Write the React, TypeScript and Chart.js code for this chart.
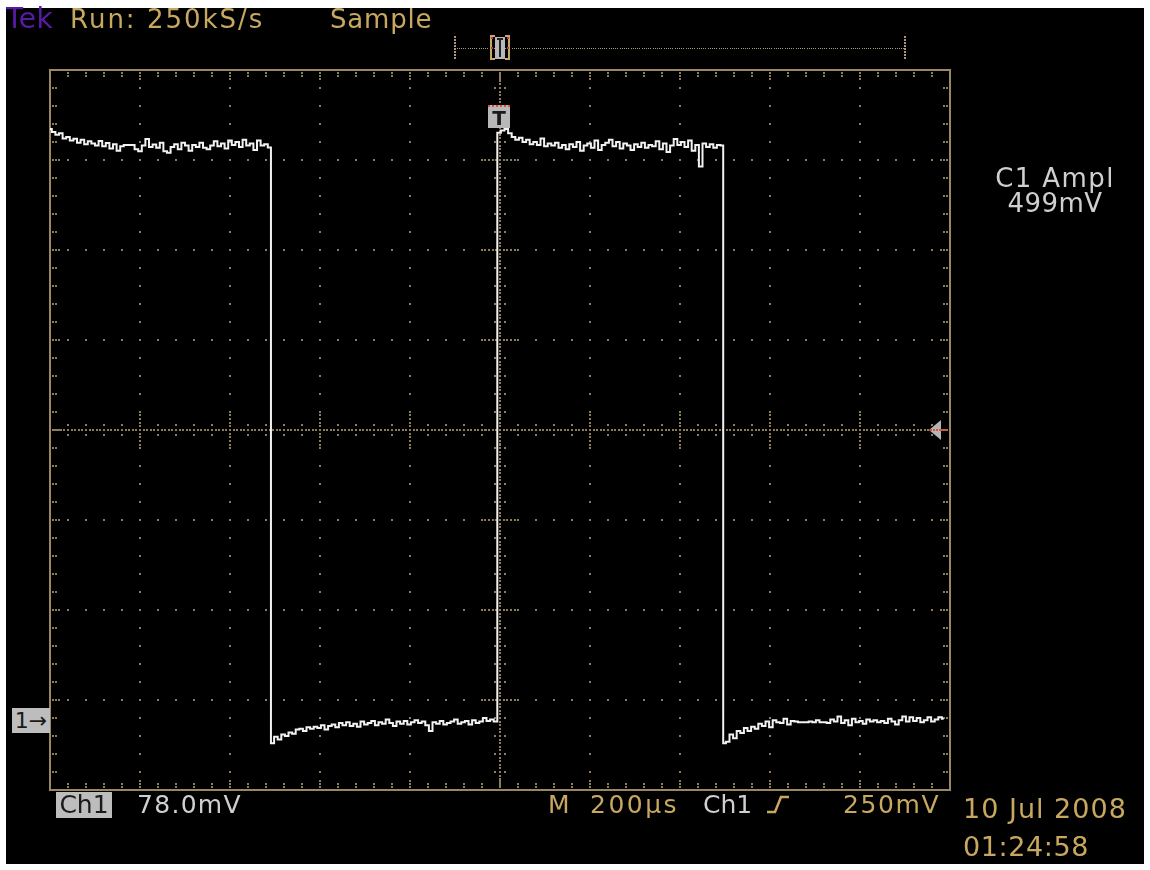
import React, { useEffect, useRef } from "react";
import { Chart, registerables } from "chart.js";

Chart.register(...registerables);

// ---- axes (time in µs, voltage in mV) ----
const TIME_MIN_US = -1000;
const TIME_MAX_US = 1000;
const VOLT_MIN_MV = -200;
const VOLT_MAX_MV = 1800;
const X_DIV_US = 200;
const Y_DIV_MV = 250;
const CENTER_MV = 800;
const SAMPLE_STEP_US = 8;

// ---- captured trace, sampled every SAMPLE_STEP_US ----
const HIGH1_START_US = -1000;
const HIGH1_MV = [
  1636, 1628, 1620, 1624, 1610, 1614, 1604, 1609, 1598, 1606,
  1594, 1602, 1596, 1590, 1603, 1588, 1597, 1582, 1594, 1576,
  1588, 1592, 1592, 1592, 1580, 1574, 1590, 1608, 1586, 1593,
  1584, 1598, 1574, 1570, 1586, 1594, 1580, 1598, 1590, 1576,
  1592, 1586, 1598, 1584, 1580, 1590, 1602, 1588, 1596, 1582,
  1604, 1592, 1600, 1586, 1606, 1590, 1596, 1578, 1604, 1590,
  1594, 1585,
];
const LOW1_START_US = -506;
const LOW1_MV = [
  -70, -52, -60, -46, -50, -40, -44, -32, -30, -36,
  -26, -30, -24, -28, -20, -32, -22, -18, -26, -14,
  -20, -12, -22, -16, -24, -10, -18, -14, -8, -20,
  -12, -16, -4, -14, -22, -10, -16, -8, -18, -12,
  -6, -14, -10, -20, -36, -12, -16, -8, -18, -14,
  -10, -4, -16, -12, -8, -18, -6, -14, -10, 0,
  -8, -4, -10,
];
const HIGH2_START_US = -2;
const HIGH2_MV = [
  1626, 1632, 1636, 1624, 1614, 1606, 1612, 1600, 1606, 1594,
  1600, 1592, 1610, 1588, 1596, 1590, 1598, 1584, 1592, 1580,
  1594, 1586, 1600, 1576, 1590, 1596, 1584, 1604, 1578, 1592,
  1598, 1606, 1588, 1600, 1582, 1596, 1590, 1578, 1594, 1586,
  1598, 1584, 1592, 1588, 1602, 1580, 1596, 1572, 1590, 1608,
  1592, 1600, 1586, 1604, 1576, 1592, 1532, 1596, 1586, 1594,
  1584, 1592, 1590,
];
const LOW2_START_US = 498;
const LOW2_MV = [
  -70, -66, -46, -56, -36, -42, -28, -36, -24, -30,
  -16, -22, -10, -26, -6, -12, -14, -2, -18, -8,
  -10, -12, -12, -12, -10, -12, -6, -12, -12, -14,
  -4, -10, 4, -14, -6, -20, -2, -12, -8, -16,
  -4, -10, -6, -12, -8, -14, -2, -10, -18, -6,
  4, -10, 2, -8, 0, -12, -6, 2, -10, -4,
  2, -2,
];

const SEGMENTS = [
  { start: HIGH1_START_US, values: HIGH1_MV },
  { start: LOW1_START_US, values: LOW1_MV },
  { start: HIGH2_START_US, values: HIGH2_MV },
  { start: LOW2_START_US, values: LOW2_MV },
];

// ---- colours ----
const TAN = "#c8a860";
const GRID = "#8e7d58";
const FRAME = "#9a8862";
const GREY_TEXT = "#cfcfcf";
const TRACE = "#f2f2f2";

const scopePlugin = {
  id: "scopeGraticule",
  beforeDatasetsDraw(chart: any) {
    const { ctx, chartArea: a, scales } = chart;
    const xs = scales.x;
    const ys = scales.y;
    const px = (t: number) => xs.getPixelForValue(t);
    const py = (v: number) => ys.getPixelForValue(v);
    const dot = (x: number, y: number, s = 2) =>
      ctx.fillRect(Math.round(x - s / 2), Math.round(y - s / 2), s, s);
    const nX = (TIME_MAX_US - TIME_MIN_US) / X_DIV_US;
    const nY = (VOLT_MAX_MV - VOLT_MIN_MV) / Y_DIV_MV;
    const minorX = X_DIV_US / 5;
    const minorY = Y_DIV_MV / 5;
    ctx.save();
    ctx.fillStyle = GRID;
    for (let k = 1; k < nX; k++) {
      const t = TIME_MIN_US + k * X_DIV_US;
      if (t === 0) continue;
      const xx = px(t);
      for (let j = 1; j < nY * 5; j++) dot(xx, py(VOLT_MIN_MV + j * minorY));
    }
    for (let k = 1; k < nY; k++) {
      const v = VOLT_MIN_MV + k * Y_DIV_MV;
      if (v === CENTER_MV) continue;
      const yy = py(v);
      for (let j = 1; j < nX * 5; j++) dot(px(TIME_MIN_US + j * minorX), yy);
    }
    const cx = px(0);
    const cy = py(CENTER_MV);
    for (let t = TIME_MIN_US; t <= TIME_MAX_US; t += 8) dot(px(t), cy, 2);
    for (let v = VOLT_MIN_MV; v <= VOLT_MAX_MV; v += 10) dot(cx, py(v), 2);
    for (let j = 1; j < nX * 5; j++) {
      const xx = px(TIME_MIN_US + j * minorX);
      const major = j % 5 === 0;
      const offs = major ? [-15, -11, -7, -4, 4, 7, 11, 15] : [-5, 5];
      offs.forEach((o) => dot(xx, cy + o));
    }
    for (let j = 1; j < nY * 5; j++) {
      const yy = py(VOLT_MIN_MV + j * minorY);
      const major = j % 5 === 0;
      const offs = major ? [-15, -11, -7, -4, 4, 7, 11, 15] : [-5, 5];
      offs.forEach((o) => dot(cx + o, yy));
    }
    for (let j = 1; j < nX * 5; j++) {
      const xx = px(TIME_MIN_US + j * minorX);
      const offs = j % 5 === 0 ? [3, 6, 9] : [3, 6];
      offs.forEach((o) => {
        dot(xx, a.top + o);
        dot(xx, a.bottom - o);
      });
    }
    for (let j = 1; j < nY * 5; j++) {
      const yy = py(VOLT_MIN_MV + j * minorY);
      const offs = j % 5 === 0 ? [3, 6, 9] : [3, 6];
      offs.forEach((o) => {
        dot(a.left + o, yy);
        dot(a.right - o, yy);
      });
    }
    ctx.strokeStyle = FRAME;
    ctx.lineWidth = 2;
    ctx.strokeRect(a.left, a.top, a.right - a.left, a.bottom - a.top);

    // record-length bar at the top
    ctx.fillStyle = "#a89a7a";
    for (let x = 455; x <= 905; x += 2.2) dot(x, 48, 1);
    for (let y = 37; y <= 60; y += 3) {
      dot(455, y, 2);
      dot(905, y, 2);
    }
    ctx.fillStyle = "#b8b8b8";
    ctx.fillRect(495, 37, 10, 22);
    ctx.fillStyle = "#202020";
    ctx.fillRect(497, 38, 6, 2);
    ctx.fillRect(499, 38, 2, 19);
    ctx.strokeStyle = TAN;
    ctx.lineWidth = 2;
    ctx.beginPath();
    ctx.moveTo(495, 36); ctx.lineTo(491, 36); ctx.lineTo(491, 59); ctx.lineTo(495, 59);
    ctx.moveTo(505, 36); ctx.lineTo(509, 36); ctx.lineTo(509, 59); ctx.lineTo(505, 59);
    ctx.stroke();
    ctx.fillStyle = "#c0308a";
    dot(492, 38, 2); dot(508, 38, 2); dot(492, 48, 2); dot(508, 48, 2);

    // trigger level marker on the right
    ctx.fillStyle = "#b4b4b4";
    ctx.beginPath();
    ctx.moveTo(929, cy);
    ctx.lineTo(941, cy - 10);
    ctx.lineTo(941, cy + 10);
    ctx.closePath();
    ctx.fill();
    ctx.fillStyle = "#e0503a";
    for (let x = 931; x <= 948; x += 3) dot(x, cy, 2);

    // rising-edge slope symbol
    ctx.strokeStyle = TAN;
    ctx.lineWidth = 2.5;
    ctx.beginPath();
    ctx.moveTo(767, 812);
    ctx.lineTo(775, 812);
    ctx.lineTo(781, 797);
    ctx.lineTo(789, 797);
    ctx.stroke();
    ctx.restore();
  },
};

type TextProps = {
  left: number;
  top: number;
  size: number;
  color: string;
  spacing?: number;
  children: React.ReactNode;
  center?: boolean;
  width?: number;
};

function T({ left, top, size, color, spacing = 0, children, center, width }: TextProps) {
  return (
    <div
      style={{
        position: "absolute",
        left,
        top,
        width: width,
        textAlign: center ? "center" : "left",
        fontFamily: "'DejaVu Sans', sans-serif",
        fontSize: size,
        lineHeight: `${size}px`,
        letterSpacing: spacing,
        color,
        whiteSpace: "nowrap",
      }}
    >
      {children}
    </div>
  );
}

export default function App() {
  const canvasRef = useRef<HTMLCanvasElement | null>(null);

  useEffect(() => {
    if (!canvasRef.current) return;
    const points = SEGMENTS.flatMap((seg) =>
      seg.values.map((v, i) => ({ x: seg.start + i * SAMPLE_STEP_US, y: v }))
    );
    const chart = new Chart(canvasRef.current, {
      type: "line",
      data: {
        datasets: [
          {
            label: "Ch1",
            data: points,
            borderColor: TRACE,
            borderWidth: 2,
            pointRadius: 0,
            stepped: "middle",
            fill: false,
          },
        ],
      },
      options: {
        animation: false,
        responsive: false,
        devicePixelRatio: 1,
        layout: { padding: { left: 50, top: 70, right: 200, bottom: 80 } },
        plugins: { legend: { display: false }, tooltip: { enabled: false } },
        scales: {
          x: { type: "linear", min: TIME_MIN_US, max: TIME_MAX_US, display: false },
          y: { type: "linear", min: VOLT_MIN_MV, max: VOLT_MAX_MV, display: false },
        },
      },
      plugins: [scopePlugin],
    });
    return () => chart.destroy();
  }, []);

  return (
    <div style={{ position: "absolute", left: 0, top: 0, width: 1150, height: 870 }}>
      <div style={{ position: "absolute", left: 6, top: 8, width: 1138, height: 856, background: "#000" }} />
      <canvas
        ref={canvasRef}
        width={1150}
        height={870}
        style={{ position: "absolute", left: 0, top: 0, width: 1150, height: 870 }}
      />
      <T left={6} top={5} size={28} color="#5a1aa8" spacing={0.5}>Tek</T>
      <T left={70} top={6} size={26} color={TAN} spacing={2}>Run: 250kS/s</T>
      <T left={330} top={6} size={26} color={TAN} spacing={0.8}>Sample</T>

      <T left={975} top={165} size={26} color={GREY_TEXT} spacing={1.4} center width={160}>C1 Ampl</T>
      <T left={975} top={190} size={26} color={GREY_TEXT} spacing={0.5} center width={160}>499mV</T>

      <div
        style={{
          position: "absolute", left: 12, top: 708, width: 38, height: 25, background: "#bdbdbd",
          color: "#1a1a1a", fontFamily: "'DejaVu Sans', sans-serif", fontSize: 22, lineHeight: "25px",
          textAlign: "center",
        }}
      >
        1→
      </div>

      <div
        style={{
          position: "absolute", left: 488, top: 105, width: 22, height: 23, background: "#b8b8b8",
          color: "#1a1a1a", fontFamily: "'DejaVu Sans', sans-serif", fontWeight: "bold", fontSize: 20,
          lineHeight: "23px", textAlign: "center", borderTop: "2px dotted #e04a3a", boxSizing: "border-box",
        }}
      >
        T
      </div>

      <div
        style={{
          position: "absolute", left: 56, top: 792, width: 56, height: 26, background: "#bdbdbd",
          color: "#1a1a1a", fontFamily: "'DejaVu Sans', sans-serif", fontSize: 25, lineHeight: "26px",
          textAlign: "center",
        }}
      >
        Ch1
      </div>
      <T left={137} top={792} size={25} color={GREY_TEXT} spacing={1.3}>78.0mV</T>
      <T left={548} top={792} size={25} color={TAN}>M</T>
      <T left={590} top={792} size={25} color={TAN} spacing={2.5}>200µs</T>
      <T left={703} top={792} size={25} color={GREY_TEXT}>Ch1</T>
      <T left={843} top={792} size={25} color={TAN} spacing={1.6}>250mV</T>
      <T left={963} top={795} size={27} color={TAN} spacing={1}>10 Jul 2008</T>
      <T left={963} top={833} size={27} color={TAN} spacing={0.6}>01:24:58</T>
    </div>
  );
}
